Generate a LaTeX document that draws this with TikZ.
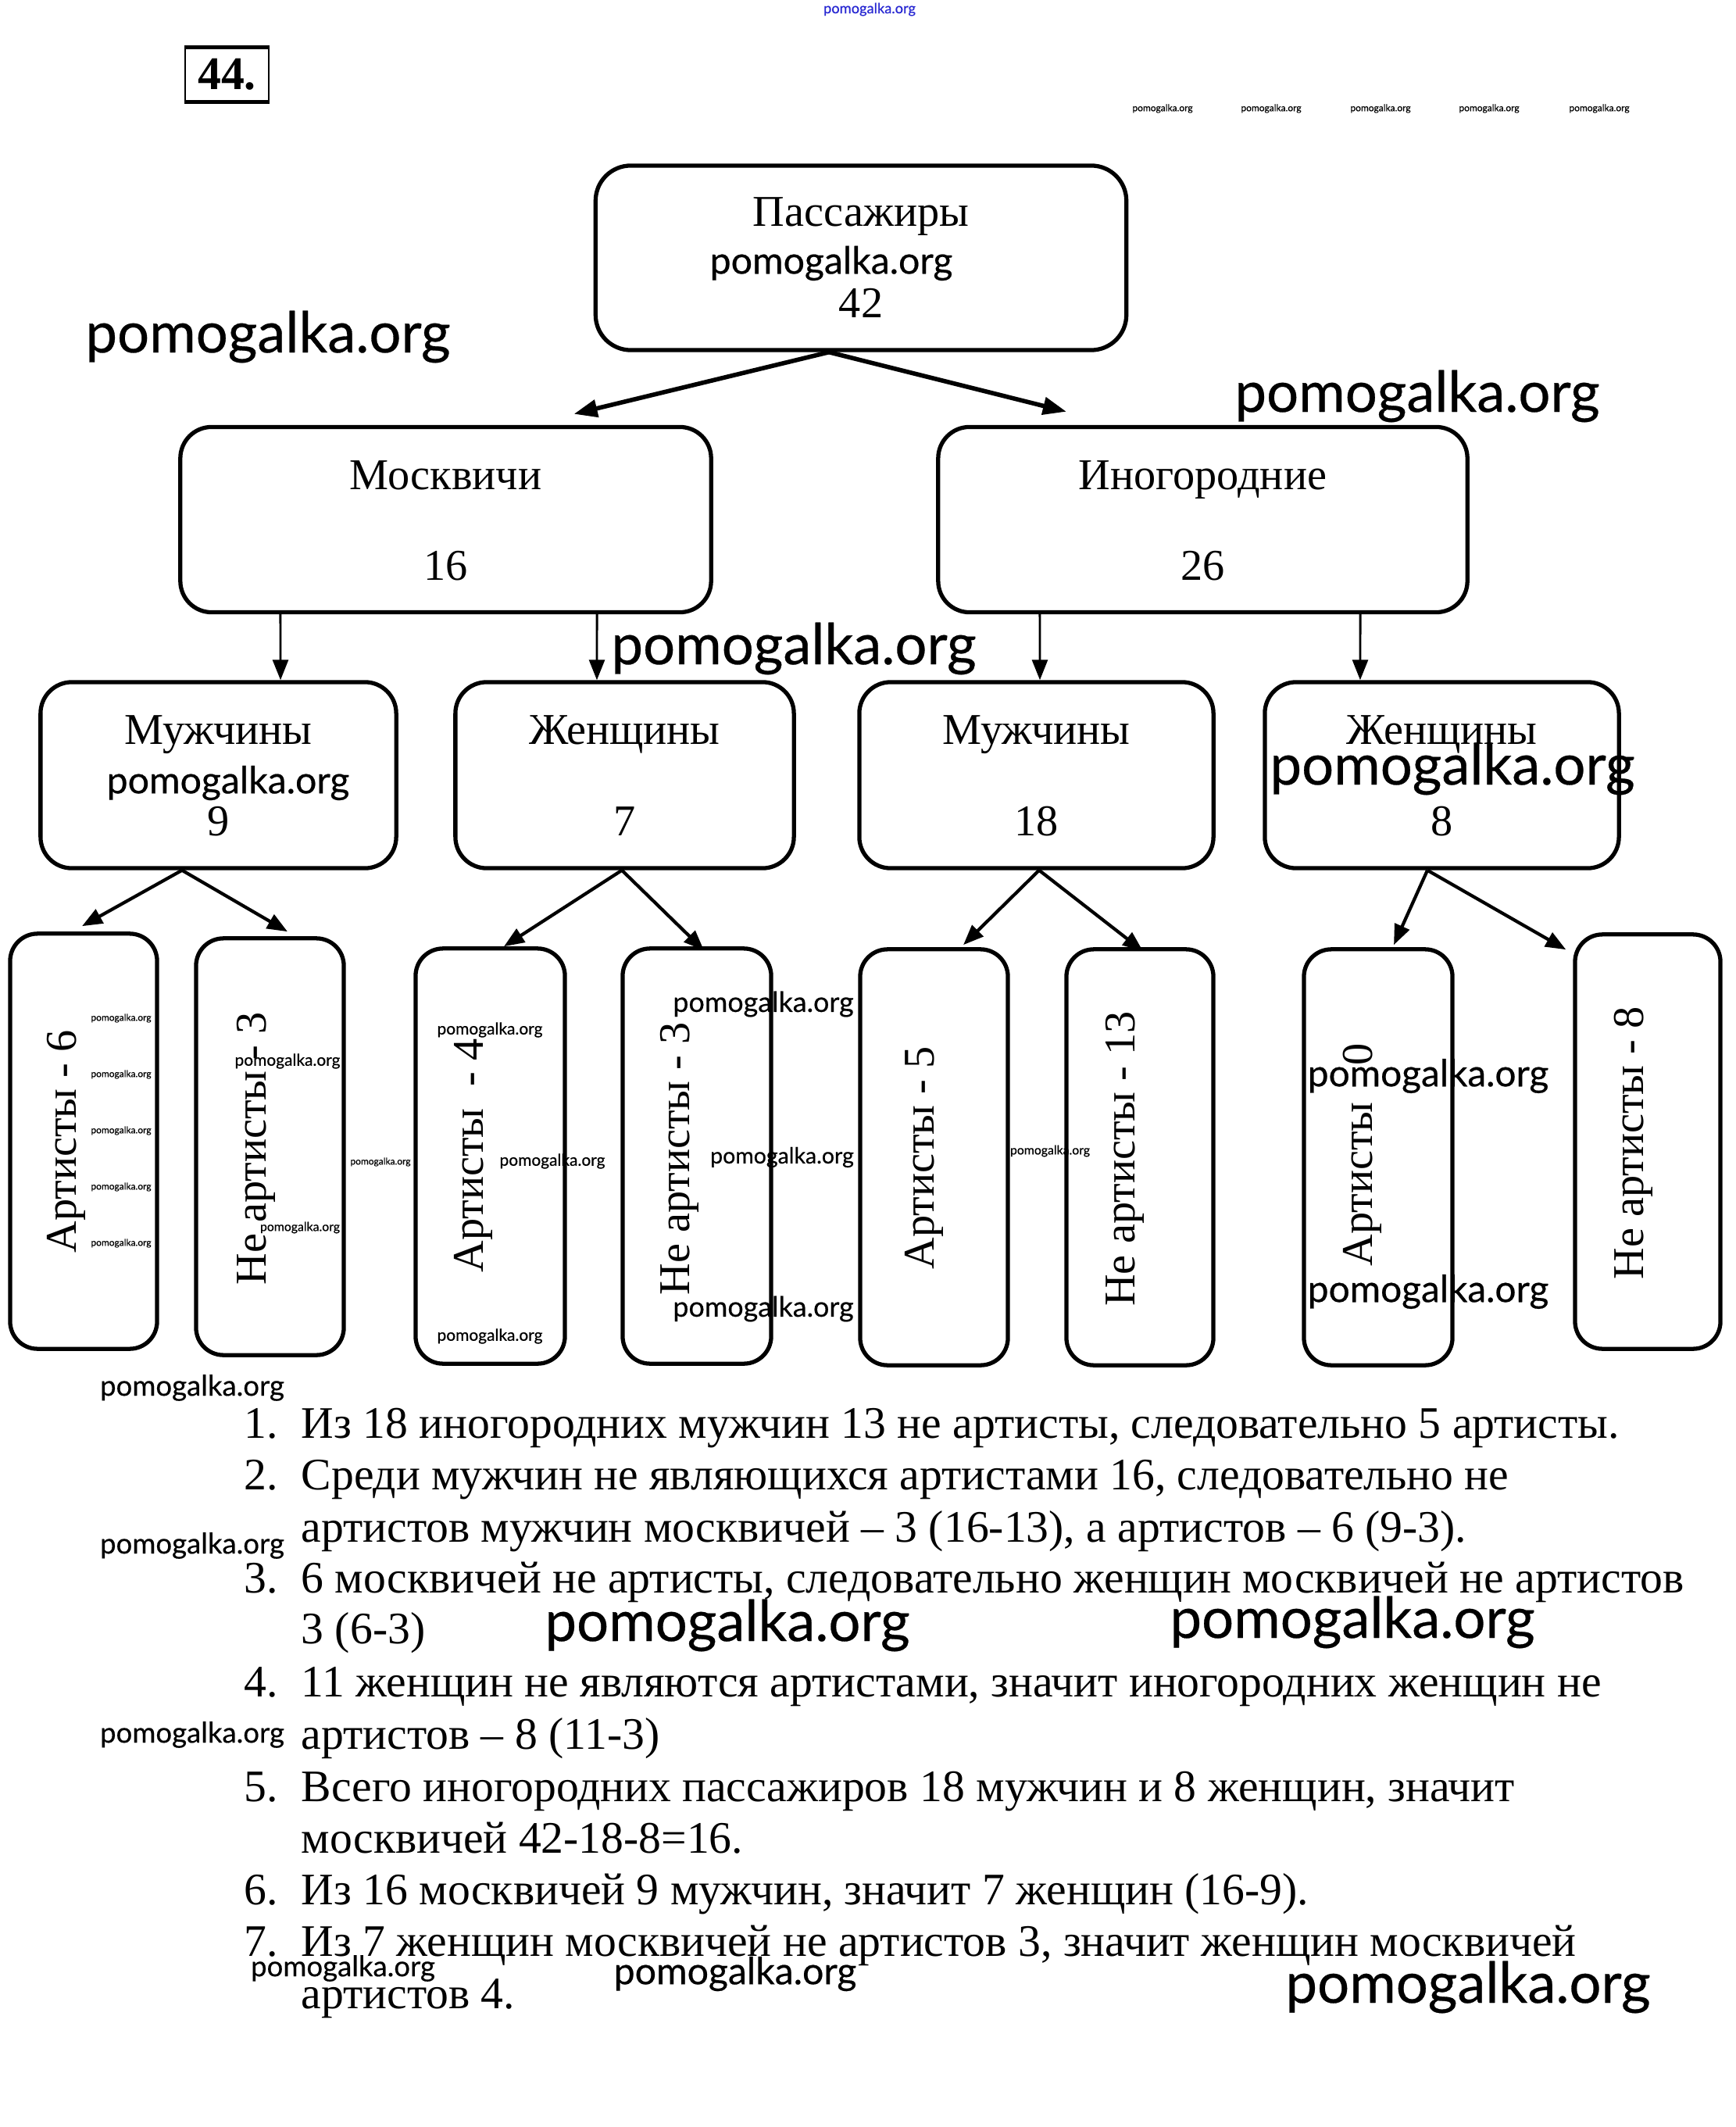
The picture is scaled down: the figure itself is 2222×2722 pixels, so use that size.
\documentclass[tikz,border=0pt]{standalone}
\usepackage{fontspec}
\setmainfont{Liberation Serif}
\newfontfamily\wmfont[FakeBold=0.4]{Lato}
\usetikzlibrary{arrows.meta}
\definecolor{wmblue}{RGB}{40,40,210}
\begin{document}
\begin{tikzpicture}[x=0.01cm,y=-0.01cm,
  box/.style={draw, line width=1.5pt, rounded corners=0.4cm, inner sep=0pt, minimum height=2.37cm},
  topbox/.style={draw, line width=1.5pt, rounded corners=0.45cm, inner sep=0pt, minimum height=2.36cm, minimum width=6.79cm},
  tallbox/.style={draw, line width=1.5pt, rounded corners=0.35cm, inner sep=0pt, minimum height=5.31cm, minimum width=1.89cm},
  lbl/.style={font=\fontsize{16}{19}\selectfont, inner sep=0pt, anchor=base},
  vlbl/.style={font=\fontsize{16}{19}\selectfont, inner sep=0pt, rotate=90},
  line/.style={font=\fontsize{16.4}{19}\selectfont, inner sep=0pt, anchor=base west},
  wm/.style={inner sep=0pt},
  arrA/.style={line width=1.6pt, -{Triangle[length=0.3cm,width=0.22cm]}},
  arrB/.style={line width=0.8pt, -{Triangle[length=0.26cm,width=0.2cm]}},
  arrC/.style={line width=1.2pt, -{Triangle[length=0.26cm,width=0.2cm]}}]
\useasboundingbox (0,0) rectangle (2222,2722);
\fill[white] (0,0) rectangle (2222,2722);

% number box
\node[draw, line width=0.8pt, minimum width=1.07cm, minimum height=0.67cm, inner sep=0pt,
  font=\bfseries\fontsize{17}{20}\selectfont] (num) at (290.5,95.5) {44.};
\draw[line width=1.6pt] (num.north west) -- (num.north east);
\draw[line width=1.6pt] (num.south west) -- (num.south east);

% level 0
\node[topbox] (P) at (1102,330) {};
\node[lbl] (Pt) at (1102,290) {Пассажиры};
\node[lbl] (Pn) at (1102,407) {42};

% level 1
\node[box, minimum width=6.79cm] (M) at (570.5,665) {};
\node[lbl] (Mt) at (570.5,627) {Москвичи};
\node[lbl] (Mn) at (570.5,743) {16};
\node[box, minimum width=6.77cm] (I) at (1539.5,665) {};
\node[lbl] (It) at (1539.5,627) {Иногородние};
\node[lbl] (In) at (1539.5,743) {26};

% level 2
\node[box, minimum width=4.55cm, minimum height=2.38cm] (M1) at (279.5,992) {};
\node[lbl] (M1t) at (279.5,952) {Мужчины};
\node[lbl] (M1n) at (279.5,1069) {9};
\node[box, minimum width=4.33cm, minimum height=2.38cm] (W1) at (799.5,992) {};
\node[lbl] (W1t) at (799.5,952) {Женщины};
\node[lbl] (W1n) at (799.5,1069) {7};
\node[box, minimum width=4.53cm, minimum height=2.38cm] (M2) at (1326.5,992) {};
\node[lbl] (M2t) at (1326.5,952) {Мужчины};
\node[lbl] (M2n) at (1326.5,1069) {18};
\node[box, minimum width=4.53cm, minimum height=2.38cm] (W2) at (1845.5,992) {};
\node[lbl] (W2t) at (1845.5,952) {Женщины};
\node[lbl] (W2n) at (1845.5,1069) {8};

% level 3
\node[tallbox, minimum width=1.88cm] (A1) at (107,1460.5) {};
\node[vlbl] (A1t) at (85,1461) {Артисты - 6};
\node[tallbox, minimum height=5.33cm] (N1) at (345.5,1467.5) {};
\node[vlbl] (N1t) at (328,1470) {Не артисты - 3};
\node[tallbox, minimum width=1.91cm] (A2) at (627.5,1479.5) {};
\node[vlbl] (A2t) at (606,1479) {Артисты\ \ - 4};
\node[tallbox, minimum width=1.90cm] (N2) at (892,1479.5) {};
\node[vlbl] (N2t) at (870,1483) {Не артисты - 3};
\node[tallbox, minimum height=5.32cm] (A3) at (1195.5,1481) {};
\node[vlbl] (A3t) at (1183,1482) {Артисты - 5};
\node[tallbox, minimum width=1.88cm, minimum height=5.32cm] (N3) at (1459,1481) {};
\node[vlbl] (N3t) at (1440,1483) {Не артисты - 13};
\node[tallbox, minimum width=1.90cm, minimum height=5.32cm] (A4) at (1764,1481) {};
\node[vlbl] (A4t) at (1744,1478) {Артисты \phantom{-} 0};
\node[tallbox, minimum width=1.86cm, minimum height=5.30cm] (N4) at (2109,1461) {};
\node[vlbl] (N4t) at (2091,1463) {Не артисты - 8};

% arrows
\draw[arrA] ([xshift=-0.41cm]P.south) -- ([xshift=1.64cm,yshift=0.14cm]M.north);
\draw[arrA] ([xshift=-0.41cm]P.south) -- ([xshift=-1.745cm,yshift=0.17cm]I.north);
\draw[arrB] ([xshift=-2.115cm]M.south) -- ([xshift=0.795cm]M1.north);
\draw[arrB] ([xshift=1.935cm]M.south) -- ([xshift=-0.355cm]W1.north);
\draw[arrB] ([xshift=-2.085cm]I.south) -- ([xshift=0.045cm]M2.north);
\draw[arrB] ([xshift=2.015cm]I.south) -- ([xshift=-1.045cm]W2.north);
\draw[arrC] ([xshift=-0.465cm]M1.south) -- ([xshift=-0.02cm,yshift=0.07cm]A1.north);
\draw[arrC] ([xshift=-0.465cm]M1.south) -- ([xshift=0.225cm,yshift=0.06cm]N1.north);
\draw[arrC] ([xshift=-0.035cm]W1.south) -- ([xshift=0.175cm]A2.north);
\draw[arrC] ([xshift=-0.035cm]W1.south) -- ([xshift=0.09cm,yshift=-0.05cm]N2.north);
\draw[arrC] ([xshift=0.035cm]M2.south) -- ([xshift=0.375cm,yshift=0.03cm]A3.north);
\draw[arrC] ([xshift=0.035cm]M2.south) -- ([xshift=0.04cm,yshift=-0.05cm]N3.north);
\draw[arrC] ([xshift=-0.185cm]W2.south) -- ([xshift=0.2cm,yshift=0.03cm]A4.north);
\draw[arrC] ([xshift=-0.185cm]W2.south) -- ([xshift=-0.09cm,yshift=-0.22cm]N4.north west);

% list
\foreach \k/\n/\y in {1/1./1840, 2/2./1906, 3/3./2038, 4/4./2171, 5/5./2305, 6/6./2437, 7/7./2503}
  \node[line] (num\k) at (312,\y) {\n};
\node[line] (L1) at (385,1840) {Из 18 иногородних мужчин 13 не артисты, следовательно 5 артисты.};
\node[line] (L2) at (385,1906) {Среди мужчин не являющихся артистами 16, следовательно не};
\node[line] (L2b) at (385,1973) {артистов мужчин москвичей – 3 (16-13), а артистов – 6 (9-3).};
\node[line] (L3) at (385,2038) {6 москвичей не артисты, следовательно женщин москвичей не артистов};
\node[line] (L3b) at (385,2103) {3 (6-3)};
\node[line] (L4) at (385,2171) {11 женщин не являются артистами, значит иногородних женщин не};
\node[line] (L4b) at (385,2238) {артистов – 8 (11-3)};
\node[line] (L5) at (385,2305) {Всего иногородних пассажиров 18 мужчин и 8 женщин, значит};
\node[line] (L5b) at (385,2371) {москвичей 42-18-8=16.};
\node[line] (L6) at (385,2437) {Из 16 москвичей 9 мужчин, значит 7 женщин (16-9).};
\node[line] (L7) at (385,2503) {Из 7 женщин москвичей не артистов 3, значит женщин москвичей};
\node[line] (L7b) at (385,2570) {артистов 4.};

% watermarks
\foreach \n/\x/\y/\s in {1/343/431/20.6, 2/1814/507/20.6, 3/1016/830/20.6, 4/1859/984/20.6,
  5/931/2080/20.6, 6/1731/2076/20.6, 7/1879/2543/20.6,
  8/1064/337/13.7, 9/292/1002/13.7, 10/941/2526/13.7, 11/1828/1377/13.6, 12/1828/1653/13.6,
  13/246/1776/10.4, 14/246/1978/10.4, 15/246/2220/10.4, 16/439/2519/10.4,
  17/977/1285/10.2, 18/977/1675/10.2, 19/1001/1481/8.1,
  20/368/1358/5.95, 21/627/1318/5.95, 22/707/1486/5.95, 23/627/1710/5.95,
  24/384/1571/4.5, 25/1344/1473/4.5,
  26/155/1303/3.4, 27/155/1375/3.4, 28/155/1447/3.4, 29/155/1519/3.4, 30/155/1591/3.4,
  31/487/1487/3.4, 32/1488/139/3.4, 33/1627/139/3.4, 34/1767/139/3.4, 35/1906/139/3.4, 36/2047/139/3.4}
  \node[wm, font=\wmfont\fontsize{\s}{\s}\selectfont] (wm\n) at (\x,\y) {pomogalka.org};
\node[wm, text=wmblue, font=\wmfont\fontsize{5.2}{5.2}\selectfont] (wmtop) at (1113,12) {pomogalka.org};
\end{tikzpicture}
\end{document}
